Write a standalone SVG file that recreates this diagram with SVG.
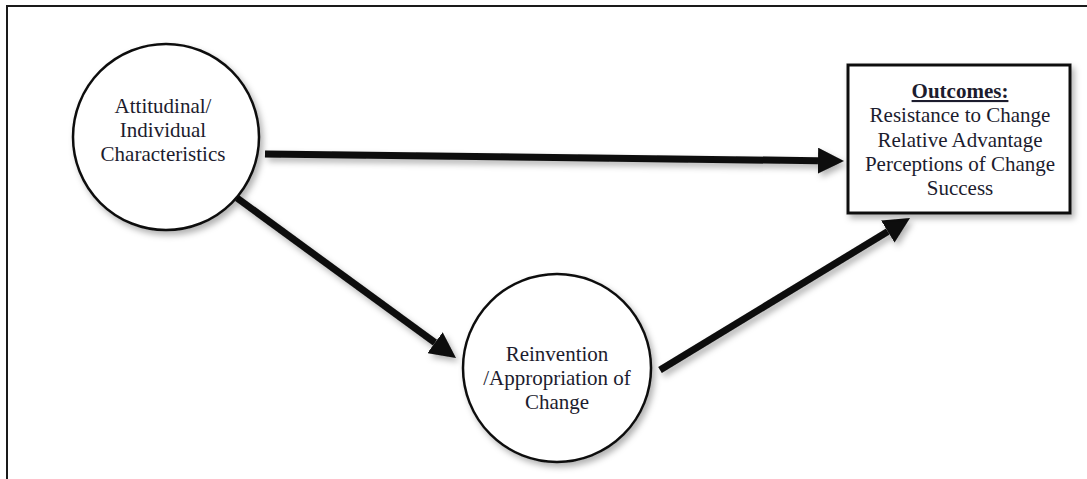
<svg xmlns="http://www.w3.org/2000/svg" width="1087" height="479" viewBox="0 0 1087 479">
  <style>
    .frame { stroke: #1a1a1a; stroke-width: 2; fill: none; }
    .node { fill: #ffffff; stroke: #111111; stroke-width: 2.5; }
    .box { fill: #ffffff; stroke: #111111; stroke-width: 3; }
    .label { font-family: "Liberation Serif", "DejaVu Serif", serif; font-size: 21px; fill: #1c1c2e; text-anchor: middle; }
    .title { font-weight: bold; text-decoration: underline; }
    .edge { stroke: #0a0a0a; stroke-width: 7; fill: none; marker-end: url(#head); }
  </style>
  <defs>
    <marker id="head" viewBox="0 0 26 26" markerWidth="26" markerHeight="26" markerUnits="userSpaceOnUse" refX="0" refY="13" orient="auto">
      <path d="M0,0 L26,13 L0,26 z" fill="#0a0a0a"/>
    </marker>
    <filter id="shadow" x="-20%" y="-20%" width="140%" height="140%">
      <feDropShadow dx="3" dy="4" stdDeviation="3" flood-color="#000000" flood-opacity="0.3"/>
    </filter>
  </defs>

  <rect width="1087" height="479" fill="#ffffff"/>

  <!-- page frame: top and left rules only -->
  <path class="frame" d="M7,479 L7,6 L1087,6"/>

  <!-- connectors -->
  <g id="connectors" filter="url(#shadow)">
    <line class="edge" x1="265" y1="154" x2="818" y2="160.7"/>
    <line class="edge" x1="237" y1="198" x2="435" y2="342.7"/>
    <line class="edge" x1="660" y1="370" x2="887.8" y2="231.5"/>
  </g>

  <g id="attitudinal">
    <circle class="node" cx="166" cy="137" r="93" filter="url(#shadow)"/>
    <text class="label" x="163" y="113">Attitudinal/</text>
    <text class="label" x="163" y="137">Individual</text>
    <text class="label" x="163" y="161">Characteristics</text>
  </g>

  <g id="reinvention">
    <circle class="node" cx="557" cy="368" r="94" filter="url(#shadow)"/>
    <text class="label" x="557" y="361">Reinvention</text>
    <text class="label" x="557" y="385">/Appropriation of</text>
    <text class="label" x="557" y="409">Change</text>
  </g>

  <g id="outcomes">
    <rect class="box" x="848" y="65" width="222" height="148" filter="url(#shadow)"/>
    <text class="label title" x="960" y="98">Outcomes:</text>
    <text class="label" x="960" y="122">Resistance to Change</text>
    <text class="label" x="960" y="147">Relative Advantage</text>
    <text class="label" x="960" y="171">Perceptions of Change</text>
    <text class="label" x="960" y="195">Success</text>
  </g>
</svg>
